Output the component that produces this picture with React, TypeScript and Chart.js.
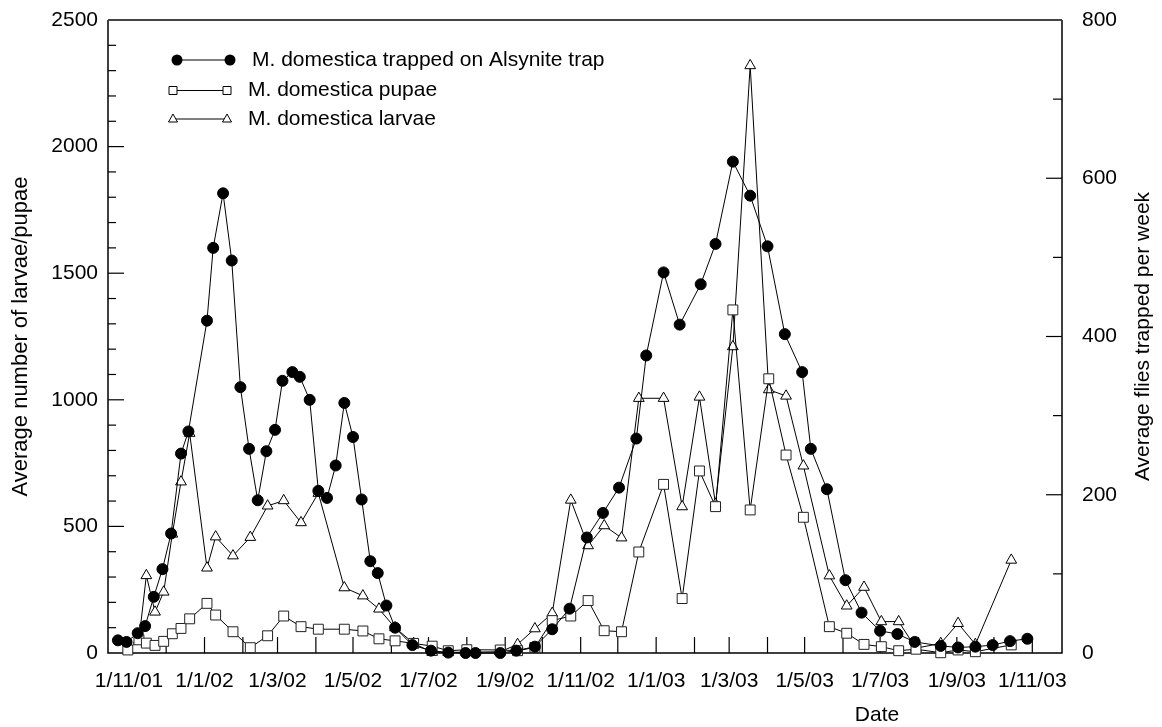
import React, { useEffect, useRef } from 'react';
import { Chart, registerables } from 'chart.js';

Chart.register(...registerables);

const FONT = "'Liberation Sans', Arial, Helvetica, sans-serif";

// Days counted from 1/11/01
const flyDays = [-9, -2, 7, 13, 20, 27, 34, 42, 48, 63, 68, 76, 83, 90, 97, 104, 111, 118, 124, 132, 138, 146, 153, 160, 167, 174, 181, 188, 195, 201, 208, 215, 229, 244, 258, 272, 280, 300, 313, 328, 342, 356, 370, 383, 396, 410, 418, 432, 445, 462, 474, 488, 502, 516, 530, 544, 551, 564, 579, 592, 607, 621, 635, 656, 670, 684, 698, 712, 726];
const flyCounts = [16, 14, 25, 34, 71, 106, 151, 252, 280, 420, 512, 581, 496, 336, 258, 193, 255, 282, 344, 355, 349, 320, 205, 196, 237, 316, 273, 194, 116, 101, 60, 32, 10, 3, 0.5, 0, 0, 0, 3, 8, 30, 56, 146, 177, 209, 271, 376, 481, 415, 466, 517, 621, 578, 514, 403, 355, 258, 207, 92, 51, 28, 24, 14, 9, 7, 8, 10, 15, 18];

const stageDays = [-1, 8, 14, 21, 28, 35, 42, 49, 63, 70, 84, 98, 112, 125, 139, 153, 174, 189, 202, 215, 230, 245, 258, 273, 300, 314, 328, 342, 357, 371, 384, 398, 412, 432, 447, 461, 474, 488, 502, 517, 531, 545, 566, 580, 594, 608, 622, 636, 656, 670, 684, 713];
const pupaeCounts = [12, 52, 39, 30, 46, 76, 97, 135, 196, 150, 84, 21, 68, 146, 104, 94, 94, 87, 56, 48, 38, 27, 9, 13, 12, 9, 22, 128, 146, 207, 88, 84, 399, 666, 215, 719, 578, 1355, 565, 1083, 782, 536, 104, 78, 34, 25, 9, 15, 1, 12, 5, 32];
const larvaeCounts: (number | null)[] = [null, 51, 306, 162, 241, 470, 676, 868, 336, 459, 384, 457, 581, 602, 515, 631, 258, 226, 174, 100, 38, 3, 3, 3, 5, 34, 96, 157, 604, 424, 503, 455, 1006, 1006, 578, 1011, 588, 1210, 2320, 1040, 1015, 739, 305, 186, 260, 124, 124, 19, 38, 117, 34, 367];

const xTickLabels = ['1/11/01', '1/1/02', '1/3/02', '1/5/02', '1/7/02', '1/9/02', '1/11/02', '1/1/03', '1/3/03', '1/5/03', '1/7/03', '1/9/03', '1/11/03'];
const seriesLabels = ['M. domestica trapped on Alsynite trap', 'M. domestica pupae', 'M. domestica larvae'];
const yLeftTitle = 'Average number of larvae/pupae';
const yRightTitle = 'Average flies trapped per week';
const xTitle = 'Date';

const ORIGIN = Date.UTC(2001, 10, 1);
const DAY = 86400000;
const labelToDay = (lbl: string) => {
  const [d, m, y] = lbl.split('/').map(Number);
  return Math.round((Date.UTC(2000 + y, m - 1, d) - ORIGIN) / DAY);
};
const labelDays = xTickLabels.map(labelToDay);
const labelByDay = new Map<number, string>(labelDays.map((d, i) => [d, xTickLabels[i]]));
const monthDays: number[] = [];
for (let i = 0; i <= 24; i++) monthDays.push(Math.round((Date.UTC(2001, 10 + i, 1) - ORIGIN) / DAY));

const drawMarker = (ctx: CanvasRenderingContext2D, style: string, x: number, y: number) => {
  ctx.beginPath();
  if (style === 'circle') {
    ctx.arc(x, y, 5.5, 0, Math.PI * 2);
    ctx.fillStyle = '#000';
    ctx.fill();
  } else if (style === 'rect') {
    ctx.rect(x - 4, y - 4, 8, 8);
    ctx.fillStyle = '#fff';
    ctx.fill();
    ctx.stroke();
  } else {
    ctx.moveTo(x, y - 5);
    ctx.lineTo(x + 4.5, y + 3);
    ctx.lineTo(x - 4.5, y + 3);
    ctx.closePath();
    ctx.fillStyle = '#fff';
    ctx.fill();
    ctx.stroke();
  }
};

const framePlugin = {
  id: 'frame',
  beforeDatasetsDraw(chart: any) {
    const { ctx, chartArea } = chart;
    const { left, right, top, bottom } = chartArea;
    const line = (x1: number, y1: number, x2: number, y2: number) => {
      ctx.beginPath();
      ctx.moveTo(x1, y1);
      ctx.lineTo(x2, y2);
      ctx.stroke();
    };
    ctx.save();
    ctx.strokeStyle = '#000';
    ctx.lineWidth = 1.5;
    ctx.beginPath();
    ctx.moveTo(left, top);
    ctx.lineTo(left, bottom);
    ctx.lineTo(right, bottom);
    ctx.lineTo(right, top);
    ctx.stroke();
    ctx.strokeStyle = '#444';
    ctx.lineWidth = 2;
    line(left, top, right, top);
    ctx.strokeStyle = '#000';
    ctx.lineWidth = 1.2;
    const ys = chart.scales.y;
    const ys1 = chart.scales.y1;
    const xs = chart.scales.x;
    for (let v = 100; v < 2500; v += 100) {
      const p = ys.getPixelForValue(v);
      line(left, p, left + (v % 500 === 0 ? 16 : 8), p);
    }
    for (let v = 100; v < 800; v += 100) {
      const p = ys1.getPixelForValue(v);
      line(right - (v % 200 === 0 ? 16 : 9), p, right, p);
    }
    for (const d of monthDays) {
      const p = xs.getPixelForValue(d);
      if (p > left + 1 && p < right - 1) line(p, bottom, p, bottom - 16);
    }
    ctx.restore();
  },
  afterDraw(chart: any) {
    const { ctx, chartArea } = chart;
    ctx.save();
    // legend
    const rows = [
      { y: 60, x1: 177, x2: 230, tx: 252, style: 'circle' },
      { y: 90.5, x1: 173, x2: 227, tx: 248, style: 'rect' },
      { y: 119, x1: 173, x2: 227, tx: 248, style: 'triangle' },
    ];
    rows.forEach((r, i) => {
      ctx.strokeStyle = '#000';
      ctx.lineWidth = 1;
      ctx.beginPath();
      ctx.moveTo(r.x1, r.y);
      ctx.lineTo(r.x2, r.y);
      ctx.stroke();
      drawMarker(ctx, r.style, r.x1, r.y);
      drawMarker(ctx, r.style, r.x2, r.y);
      ctx.fillStyle = '#000';
      ctx.font = `21px ${FONT}`;
      ctx.textAlign = 'left';
      ctx.textBaseline = 'middle';
      ctx.fillText(seriesLabels[i], r.tx, r.y);
    });
    // axis titles
    const midY = (chartArea.top + chartArea.bottom) / 2;
    ctx.fillStyle = '#000';
    ctx.textAlign = 'center';
    ctx.textBaseline = 'middle';
    ctx.save();
    ctx.font = `22px ${FONT}`;
    ctx.translate(21, midY);
    ctx.rotate(-Math.PI / 2);
    ctx.fillText(yLeftTitle, 0, 0);
    ctx.restore();
    ctx.save();
    ctx.font = `21px ${FONT}`;
    ctx.translate(1143, midY);
    ctx.rotate(-Math.PI / 2);
    ctx.fillText(yRightTitle, 0, 0);
    ctx.restore();
    ctx.font = `21px ${FONT}`;
    ctx.fillText(xTitle, 877, 715);
    ctx.restore();
  },
};

export default function App() {
  const ref = useRef<HTMLCanvasElement>(null);
  useEffect(() => {
    const canvas = ref.current;
    if (!canvas) return;
    Chart.defaults.font.family = FONT;
    Chart.defaults.color = '#000';
    const tickFont = { size: 21, family: FONT };
    const plainNumber = (v: any) => String(v);
    const chart = new Chart(canvas, {
      type: 'line',
      data: {
        datasets: [
          {
            label: seriesLabels[0],
            data: flyDays.map((d, i) => ({ x: d, y: flyCounts[i] })),
            yAxisID: 'y1',
            borderColor: '#000',
            borderWidth: 1,
            pointStyle: 'circle',
            pointRadius: 5.5,
            pointBackgroundColor: '#000',
            pointBorderColor: '#000',
            pointBorderWidth: 1,
            tension: 0,
            clip: false,
          },
          {
            label: seriesLabels[1],
            data: stageDays.map((d, i) => ({ x: d, y: pupaeCounts[i] })),
            yAxisID: 'y',
            borderColor: '#000',
            borderWidth: 1,
            pointStyle: 'rect',
            pointRadius: 7,
            pointBackgroundColor: '#fff',
            pointBorderColor: '#222',
            pointBorderWidth: 1,
            tension: 0,
            clip: false,
          },
          {
            label: seriesLabels[2],
            data: stageDays.map((d, i) => ({ x: d, y: larvaeCounts[i] })),
            yAxisID: 'y',
            borderColor: '#000',
            borderWidth: 1,
            pointStyle: 'triangle',
            pointRadius: 6.2,
            pointBackgroundColor: '#fff',
            pointBorderColor: '#000',
            pointBorderWidth: 1,
            tension: 0,
            spanGaps: true,
            clip: false,
          },
        ] as any,
      },
      options: {
        responsive: false,
        animation: false,
        layout: { padding: { top: 20, left: 0, right: 0, bottom: 0 } },
        plugins: { legend: { display: false }, tooltip: { enabled: false } },
        scales: {
          x: {
            type: 'linear',
            min: -17,
            max: 754,
            grid: { display: false, drawTicks: false },
            border: { display: false },
            afterBuildTicks: (s: any) => {
              s.ticks = labelDays.map((v) => ({ value: v }));
            },
            afterFit: (s: any) => {
              s.height = 74;
              s.paddingLeft = 0;
              s.paddingRight = 0;
            },
            ticks: {
              autoSkip: false,
              maxRotation: 0,
              minRotation: 0,
              padding: 16,
              color: '#000',
              font: tickFont,
              callback: (v: any) => labelByDay.get(Math.round(Number(v))) ?? '',
            },
          },
          y: {
            position: 'left',
            min: 0,
            max: 2500,
            grid: { display: false, drawTicks: false },
            border: { display: false },
            afterFit: (s: any) => {
              s.width = 108;
              s.paddingTop = 0;
              s.paddingBottom = 0;
            },
            ticks: { stepSize: 500, padding: 10, color: '#000', font: tickFont, callback: plainNumber },
          },
          y1: {
            position: 'right',
            min: 0,
            max: 800,
            grid: { display: false, drawTicks: false },
            border: { display: false },
            afterFit: (s: any) => {
              s.width = 100;
              s.paddingTop = 0;
              s.paddingBottom = 0;
            },
            ticks: { stepSize: 200, padding: 20, color: '#000', font: tickFont, callback: plainNumber },
          },
        },
      } as any,
      plugins: [framePlugin],
    });
    return () => chart.destroy();
  }, []);
  return (
    <div style={{ position: 'fixed', left: 0, top: 0, width: 1162, height: 727, background: '#fff' }}>
      <canvas ref={ref} width={1162} height={727} style={{ display: 'block' }} />
    </div>
  );
}
